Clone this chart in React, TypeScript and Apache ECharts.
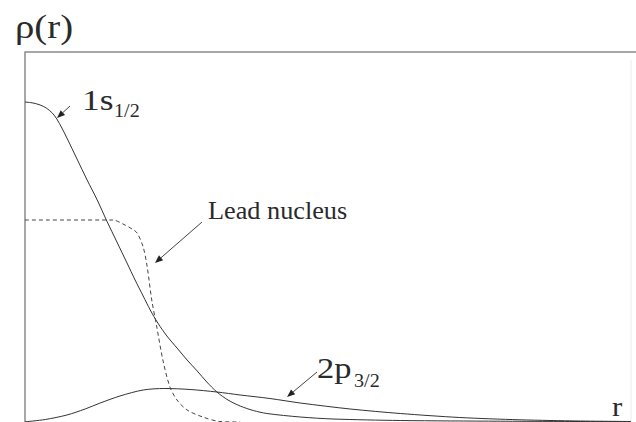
import React, { useEffect, useRef } from "react";
import * as echarts from "echarts";

// radius values (arbitrary units) and densities
const r1s = [0, 0.16, 0.3, 0.42, 0.54, 0.63, 0.73, 0.83, 1.03, 1.23, 1.43, 1.62, 1.82, 2.02, 2.18, 2.34, 2.48, 2.63, 2.81, 3.01, 3.21, 3.41, 3.6, 3.8, 4.02, 4.26, 4.52, 4.79, 5.45, 6.1, 7.43, 9.41, 12.0];
const rho1s = [3.2, 3.19, 3.17, 3.14, 3.09, 3.03, 2.94, 2.84, 2.63, 2.42, 2.22, 2.01, 1.8, 1.59, 1.42, 1.26, 1.12, 0.99, 0.86, 0.74, 0.62, 0.51, 0.4, 0.3, 0.22, 0.16, 0.115, 0.085, 0.05, 0.03, 0.015, 0.008, 0.003];

const r2p = [0, 0.4, 0.83, 1.19, 1.49, 1.88, 2.34, 2.77, 3.27, 3.8, 4.26, 4.85, 5.45, 6.44, 7.43, 8.61, 9.8, 10.99, 12.0];
const rho2p = [0.002, 0.025, 0.07, 0.13, 0.19, 0.26, 0.32, 0.335, 0.325, 0.3, 0.27, 0.235, 0.19, 0.13, 0.085, 0.045, 0.022, 0.01, 0.005];

const rLead = [0, 1.74, 1.94, 2.12, 2.22, 2.34, 2.42, 2.51, 2.61, 2.73, 2.87, 3.01, 3.21, 3.52, 3.86, 4.26];
const rhoLead = [2.02, 2.02, 1.98, 1.93, 1.89, 1.75, 1.55, 1.22, 0.95, 0.62, 0.35, 0.22, 0.12, 0.05, 0.005, 0];

const R_MAX = 12;
const RHO_MAX = 3.7;

const FONT = '"Liberation Serif", "Times New Roman", serif';
const INK = "#2a2a2a";

function zip(xs: number[], ys: number[]) {
  return xs.map((x, i) => [x, ys[i]]);
}

function arrow(x1: number, y1: number, x2: number, y2: number) {
  const dx = x2 - x1;
  const dy = y2 - y1;
  const len = Math.sqrt(dx * dx + dy * dy);
  const ux = dx / len;
  const uy = dy / len;
  const hl = 8;
  const hw = 3.2;
  const bx = x2 - ux * hl;
  const by = y2 - uy * hl;
  return [
    {
      type: "line",
      shape: { x1, y1, x2: bx, y2: by },
      style: { stroke: "#444", lineWidth: 1 },
      silent: true,
    },
    {
      type: "polygon",
      shape: {
        points: [
          [x2, y2],
          [bx - uy * hw, by + ux * hw],
          [bx + uy * hw, by - ux * hw],
        ],
      },
      style: { fill: "#222" },
      silent: true,
    },
  ];
}

function label(text: string, x: number, top: number, size: number, sx: number) {
  return {
    type: "text",
    x,
    y: top,
    scaleX: sx,
    style: {
      text,
      fill: INK,
      font: `${size}px ${FONT}`,
      textAlign: "left",
      textVerticalAlign: "top",
    },
    silent: true,
  };
}

export default function App() {
  const ref = useRef<HTMLDivElement>(null);

  useEffect(() => {
    if (!ref.current) return;
    const chart = echarts.init(ref.current, undefined, { renderer: "svg" });
    const lineCommon = {
      type: "line",
      showSymbol: false,
      smooth: 0.3,
      silent: true,
    };
    chart.setOption({
      animation: false,
      backgroundColor: "#ffffff",
      grid: { left: 25, right: 5, top: 52, bottom: 0, containLabel: false },
      xAxis: {
        type: "value",
        min: 0,
        max: R_MAX,
        axisLine: { show: false },
        axisTick: { show: false },
        axisLabel: { show: false },
        splitLine: { show: false },
      },
      yAxis: {
        type: "value",
        min: 0,
        max: RHO_MAX,
        axisLine: { show: true, lineStyle: { color: "#8a8a8a", width: 1.5 } },
        axisTick: { show: false },
        axisLabel: { show: false },
        splitLine: { show: false },
      },
      series: [
        {
          ...lineCommon,
          name: "1s1/2",
          data: zip(r1s, rho1s),
          lineStyle: { color: "#333", width: 1 },
        },
        {
          ...lineCommon,
          name: "2p3/2",
          data: zip(r2p, rho2p),
          lineStyle: { color: "#333", width: 1 },
        },
        {
          ...lineCommon,
          name: "Lead nucleus",
          data: zip(rLead, rhoLead),
          lineStyle: { color: "#444", width: 1, type: [4, 3] },
        },
      ],
      graphic: [
        {
          type: "line",
          shape: { x1: 25, y1: 52, x2: 636, y2: 52 },
          style: { stroke: "#8a8a8a", lineWidth: 1.5 },
          silent: true,
        },
        {
          type: "line",
          shape: { x1: 631, y1: 60, x2: 631, y2: 422 },
          style: { stroke: "#ececec", lineWidth: 1 },
          silent: true,
        },
        label("ρ(r)", 15, 10, 34, 1.14),
        label("1s", 82, 85, 30, 1.18),
        label("1/2", 114, 102, 18, 1.12),
        label("Lead nucleus", 208, 198, 25, 1.05),
        label("2p", 317, 353, 30, 1.15),
        label("3/2", 354, 372, 18, 1.12),
        label("r", 612, 392, 28, 1.1),
        ...arrow(70, 106, 57, 118),
        ...arrow(202, 222, 155, 263),
        ...arrow(317, 372, 287, 397),
      ],
    });
    return () => chart.dispose();
  }, []);

  return (
    <div
      ref={ref}
      style={{ position: "fixed", left: 0, top: 0, width: 636, height: 422, background: "#fff" }}
    />
  );
}
